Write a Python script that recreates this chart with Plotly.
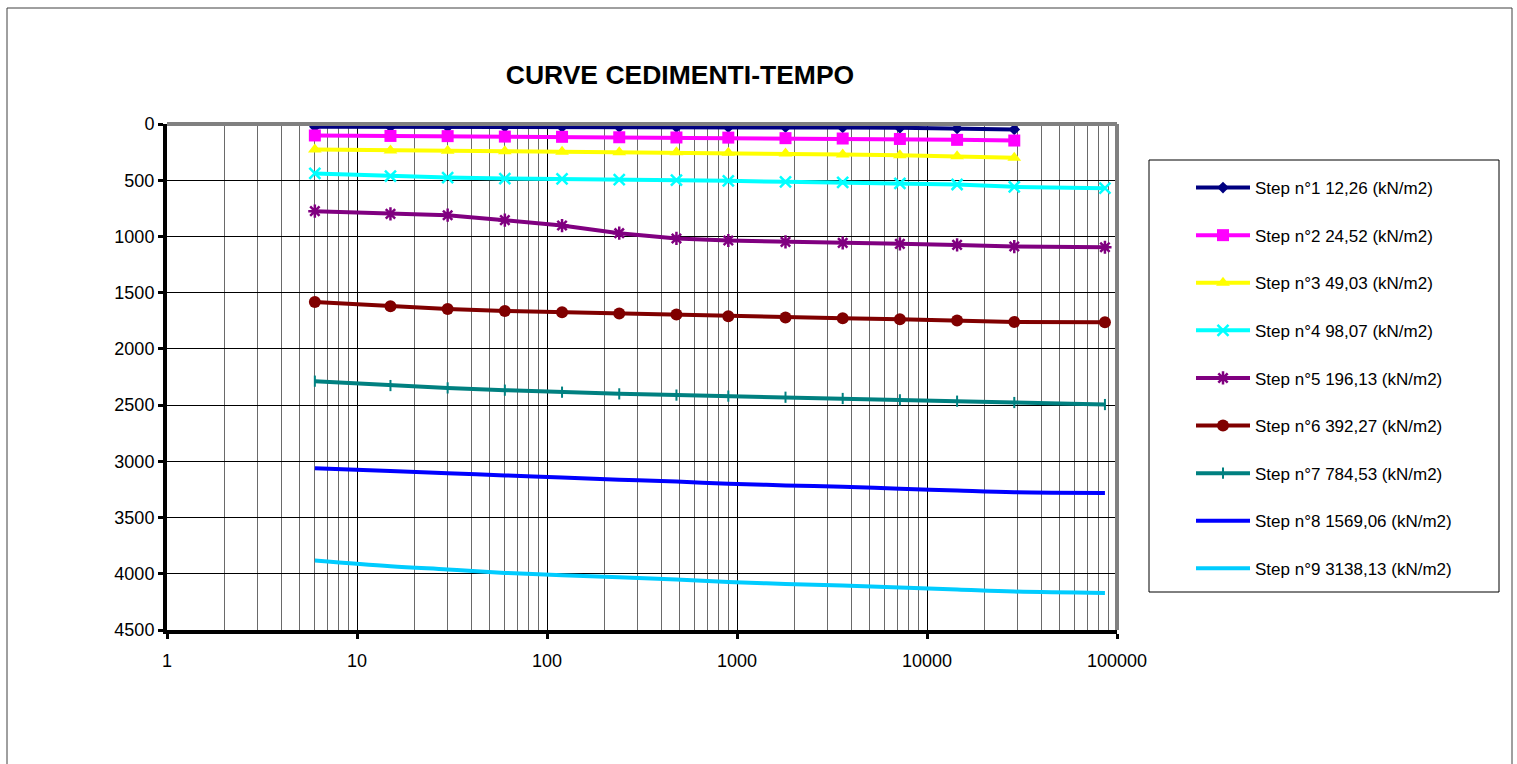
import plotly.graph_objects as go

# ---- data (time in seconds, settlement values) ----
time_s = [6, 15, 30, 60, 120, 240, 480, 900, 1800, 3600, 7200, 14400, 28800, 86400]

step1 = [25, 25, 26, 26, 27, 27, 28, 28, 29, 31, 34, 40, 48]
step2 = [102, 106, 108, 112, 114, 118, 120, 121, 126, 129, 133, 141, 147]
step3 = [227, 236, 238, 242, 247, 251, 252, 256, 262, 271, 277, 286, 301]
step4 = [440, 464, 476, 485, 489, 494, 500, 505, 514, 520, 527, 538, 559, 571]
step5 = [775, 799, 811, 855, 903, 971, 1018, 1036, 1048, 1057, 1066, 1075, 1090, 1096]
step6 = [1582, 1621, 1645, 1663, 1675, 1686, 1695, 1709, 1721, 1728, 1736, 1748, 1760, 1763]
step7 = [2287, 2326, 2347, 2367, 2385, 2400, 2411, 2420, 2430, 2441, 2453, 2465, 2477, 2495]
step8 = [3062, 3087, 3105, 3125, 3143, 3163, 3180, 3199, 3214, 3227, 3243, 3260, 3275, 3281]
step9 = [3882, 3933, 3962, 3992, 4013, 4031, 4051, 4073, 4090, 4105, 4123, 4140, 4158, 4170]

names = [
    "Step n°1 12,26 (kN/m2)",
    "Step n°2 24,52 (kN/m2)",
    "Step n°3 49,03 (kN/m2)",
    "Step n°4 98,07 (kN/m2)",
    "Step n°5 196,13 (kN/m2)",
    "Step n°6 392,27 (kN/m2)",
    "Step n°7 784,53 (kN/m2)",
    "Step n°8 1569,06 (kN/m2)",
    "Step n°9 3138,13 (kN/m2)",
]
series = [step1, step2, step3, step4, step5, step6, step7, step8, step9]
colors = ["#000080", "#FF00FF", "#FFFF00", "#00FFFF", "#800080",
          "#800000", "#008080", "#0000FF", "#00CCFF"]
symbols = ["diamond", "square", "triangle-up", "x-thin-open", "asterisk-open",
           "circle", "line-ns-open", None, None]
msizes = [9, 12, 12, 11, 11, 12, 8, 0, 0]

x_ticks = [1, 10, 100, 1000, 10000, 100000]
x_ticktext = ["1", "10", "100", "1000", "10000", "100000"]
y_ticks = [0, 500, 1000, 1500, 2000, 2500, 3000, 3500, 4000, 4500]

FONT = "Liberation Sans, Arial, sans-serif"

fig = go.Figure()
for i, (nm, ys, col, sym, ms) in enumerate(zip(names, series, colors, symbols, msizes)):
    xs = time_s[:len(ys)]
    if sym is None:
        fig.add_trace(go.Scatter(
            x=xs, y=ys, name=nm, mode="lines",
            line=dict(color=col, width=4, shape="spline", smoothing=1.0),
            legendgroup=str(i),
        ))
    else:
        mk = dict(symbol=sym, size=ms, color=col)
        if sym.endswith("-open"):
            mk["line"] = dict(color=col, width=2.5 if sym != "line-ns-open" else 2)
        fig.add_trace(go.Scatter(
            x=xs, y=ys, name=nm, mode="lines+markers",
            line=dict(color=col, width=4),
            marker=mk,
            legendgroup=str(i),
        ))

L, R, T, B = 167, 1117, 124, 630
W, H = 1517, 764
pw, ph = R - L, B - T

def px_x(p):
    return (p - L) / pw

def px_y(p):
    return (B - p) / ph

minor_vals = []
for dec in [1, 10, 100, 1000, 10000]:
    for k in range(2, 10):
        minor_vals.append(dec * k)

fig.update_layout(
    width=W, height=H,
    margin=dict(l=L, r=W - R, t=T, b=H - B),
    paper_bgcolor="white", plot_bgcolor="white",
    font=dict(family=FONT, color="black", size=17),
    title=dict(text="<b>CURVE CEDIMENTI-TEMPO</b>", x=680 / W, xanchor="center",
               y=1 - 75 / H, yanchor="middle",
               font=dict(family=FONT, size=26.5, color="black")),
    showlegend=True,
    legend=dict(x=px_x(1191), y=px_y(170), xanchor="left", yanchor="top",
                bgcolor="rgba(0,0,0,0)", borderwidth=0,
                font=dict(family=FONT, size=17, color="black"),
                tracegroupgap=22.5, itemwidth=54),
    xaxis=dict(type="log", range=[0, 5], tickvals=x_ticks, ticktext=x_ticktext,
               showgrid=True, gridcolor="#000000", gridwidth=1,
               showline=True, linecolor="black", linewidth=4,
               ticks="outside", ticklen=5, tickwidth=3, tickcolor="black",
               ticklabelstandoff=6,
               tickfont=dict(family=FONT, size=18, color="black"),
               minor=dict(tickvals=minor_vals, showgrid=True, gridcolor="#6a6a6a",
                          gridwidth=1, ticks=""),
               zeroline=False),
    yaxis=dict(range=[4500, 0], tickvals=y_ticks,
               showgrid=True, gridcolor="#000000", gridwidth=1,
               showline=True, linecolor="black", linewidth=4,
               ticks="outside", ticklen=5, tickwidth=3, tickcolor="black",
               tickfont=dict(family=FONT, size=18, color="black"),
               zeroline=False),
    shapes=[
        # gray top and right frame of plot area
        dict(type="line", xref="paper", yref="paper", x0=0, x1=1, y0=1, y1=1,
             line=dict(color="#808080", width=4), layer="above"),
        dict(type="line", xref="paper", yref="paper", x0=1, x1=1, y0=0, y1=1,
             line=dict(color="#808080", width=4), layer="above"),
        # legend box
        dict(type="rect", xref="paper", yref="paper",
             x0=px_x(1149), x1=px_x(1499), y0=px_y(592), y1=px_y(160),
             line=dict(color="black", width=1), fillcolor="rgba(0,0,0,0)"),
        # outer chart border
        dict(type="rect", xref="paper", yref="paper",
             x0=px_x(7), x1=px_x(1512), y0=px_y(780), y1=px_y(8),
             line=dict(color="#404040", width=1), fillcolor="rgba(0,0,0,0)"),
    ],
)

fig.write_html("out.html",
               config={"displayModeBar": False},
               post_script="document.body.style.margin='0';document.body.style.overflow='hidden';")
